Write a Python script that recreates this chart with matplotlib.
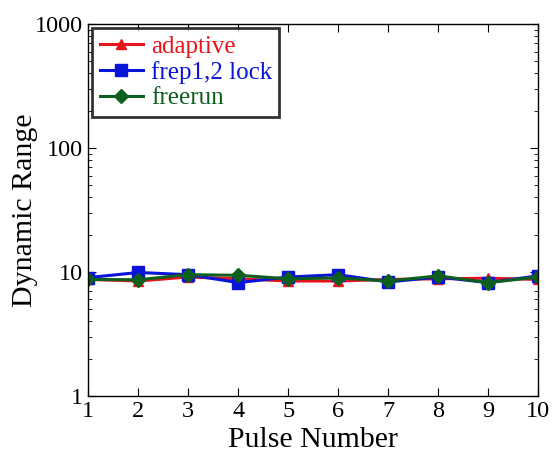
import matplotlib
matplotlib.use("Agg")
import matplotlib.pyplot as plt
from matplotlib import font_manager
import numpy as np

# make sure a Times-like serif is picked up
fam = 'DejaVu Serif'
for f in font_manager.findSystemFonts():
    if 'LiberationSerif-Regular' in f:
        font_manager.fontManager.addfont(f)
        fam = font_manager.FontProperties(fname=f).get_name()
plt.rcParams['font.family'] = [fam, 'DejaVu Serif']

pulse = [1, 2, 3, 4, 5, 6, 7, 8, 9, 10]
adaptive = [8.7, 8.45, 9.1, 8.8, 8.45, 8.45, 8.7, 8.8, 8.9, 8.7]
frep_lock = [9.0, 9.9, 9.5, 8.2, 9.1, 9.5, 8.3, 9.1, 8.2, 9.3]
freerun = [8.7, 8.65, 9.5, 9.4, 8.8, 8.95, 8.45, 9.3, 8.2, 9.1]

c_red = "#e8141c"
c_blue = "#0a14d8"
c_green = "#0e5e1e"

fig = plt.figure(figsize=(5.52, 4.55), dpi=100)
ax = fig.add_axes([0.16, 0.13, 0.815, 0.817])

ax.plot(pulse, adaptive, marker="^", markersize=7, lw=2.2, c=c_red, label="adaptive")
ax.plot(pulse, frep_lock, marker="s", markersize=8, lw=2.2, c=c_blue, label="frep1,2 lock")
ax.plot(pulse, freerun, marker="D", markersize=7.5, lw=2.2, c=c_green, label="freerun")

ax.set_yscale("log")
ax.set_ylim(1, 1000)
ax.set_xlim(1, 10)
ax.set_xticks(pulse)
ax.set_yticks([1, 10, 100, 1000])
ax.set_yticklabels(["1", "10", "100", "1000"])
ax.tick_params(which="both", direction="in", top=True, right=True, labelsize=17.5)
ax.tick_params(which="major", length=6)
ax.tick_params(which="minor", length=3)
ax.tick_params(axis="x", pad=4)
for s in ax.spines.values():
    s.set_linewidth(1.0)

ax.set_xlabel("Pulse Number", fontsize=21.5, labelpad=3.5)
ax.set_ylabel("Dynamic Range", fontsize=21.5)
ax.yaxis.set_label_coords(-0.112, 0.5)

leg = ax.legend(loc="upper left", fontsize=18, frameon=True, fancybox=False,
                borderaxespad=0.15, handlelength=1.75, handletextpad=0.3,
                labelspacing=0.12, borderpad=0.3)
leg.get_frame().set_edgecolor("black")
leg.get_frame().set_linewidth(2)
for txt, col in zip(leg.get_texts(), [c_red, c_blue, c_green]):
    txt.set_color(col)

plt.savefig("out.png", dpi=100)
